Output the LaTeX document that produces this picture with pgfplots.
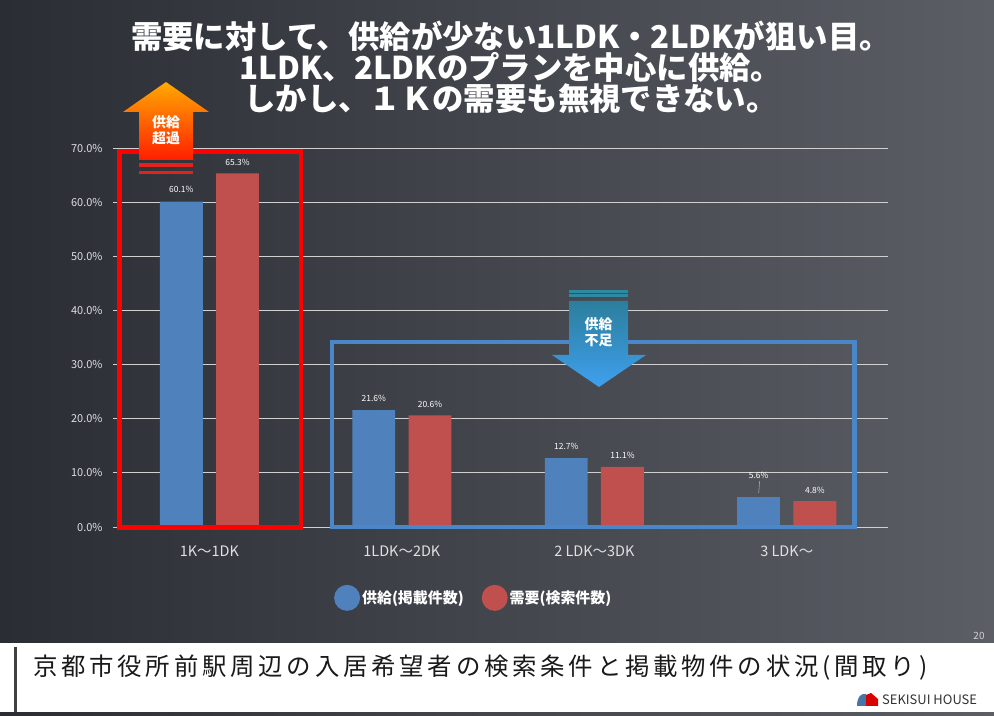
\documentclass[border=0pt]{standalone}
\usepackage{pgfplots}
\pgfplotsset{compat=1.18}
\usepackage{fontspec}
\setmainfont{Noto Sans CJK JP}
\newfontfamily\footfont[LetterSpace=15.5]{Noto Sans CJK JP}
\definecolor{bgL}{HTML}{2B2D35}
\definecolor{bgR}{HTML}{5B5E65}
\definecolor{barblue}{HTML}{4F81BD}
\definecolor{barred}{HTML}{C0504D}
\definecolor{boxblue}{HTML}{4A86C8}
\definecolor{gridc}{HTML}{D0D0D0}
\definecolor{ticktext}{HTML}{E0E0E0}
\definecolor{arrTop}{HTML}{FFAA00}
\definecolor{arrBot}{HTML}{FF1E00}
\definecolor{stripeR}{HTML}{E3221C}
\definecolor{arbTop}{HTML}{2B7E9C}
\definecolor{arbBot}{HTML}{3FA0EE}
\definecolor{stripeB}{HTML}{2E8AA0}

\begin{document}
\begin{tikzpicture}[x=1bp,y=1bp]
% slide background
\shade[left color=bgL, right color=bgR] (0,0) rectangle (994,716);
% footer band
\fill[white] (0,4) rectangle (994,73);
\fill[black!75] (14,4) rectangle (17,69);

\begin{axis}[
  at={(118bp,189bp)}, anchor=south west,
  scale only axis, width=765bp, height=379bp,
  xmin=-0.475, xmax=3.5, ymin=0, ymax=70,
  clip=false,
  axis line style={draw=none},
  xtick={0,1,2,3},
  xticklabels={1K〜1DK, 1LDK〜2DK, 2 LDK〜3DK, 3 LDK〜},
  x tick style={draw=none},
  xticklabel style={text=ticktext, font=\fontsize{14.5}{16}\selectfont, yshift=-10bp},
  ytick={0,10,...,70},
  ymajorgrids, grid style={gridc, line width=0.9bp},
  y tick style={gridc, line width=0.9bp},
  tick align=outside, major tick length=5bp,
  yticklabel={\pgfmathprintnumber[fixed,fixed zerofill,precision=1]{\tick}\%},
  yticklabel style={text=ticktext, font=\fontsize{11}{13}\selectfont, xshift=-7bp},
  /pgf/number format/assume math mode=true,
  legend columns=2,
  legend style={draw=none, fill=none, text=white, font=\bfseries\fontsize{15}{17}\selectfont,
     at={(0.465,-0.187)}, anchor=center,
     /tikz/every even column/.append style={column sep=16bp}},
  every node near coord/.append style={text=white, font=\fontsize{8.5}{9}\selectfont, anchor=center},
]
% supply (listings)
\addplot[ybar, bar shift=0pt, bar width=0.223, fill=barblue, draw=none,
  legend image code/.code={\fill[barblue] (13bp,0bp) circle (13bp);},
  nodes near coords={\pgfmathprintnumber[fixed,fixed zerofill,precision=1]{\pgfplotspointmeta}\%},
  every node near coord/.append style={yshift=12bp}]
  coordinates {(-0.146,60.1) (0.854,21.6) (1.854,12.7)};
\addlegendentry{供給(掲載件数)}
% demand (searches)
\addplot[ybar, bar shift=0pt, bar width=0.223, fill=barred, draw=none,
  legend image code/.code={\fill[barred] (13bp,0bp) circle (13bp);},
  nodes near coords={\pgfmathprintnumber[fixed,fixed zerofill,precision=1]{\pgfplotspointmeta}\%},
  every node near coord/.append style={yshift=11bp}]
  coordinates {(0.146,65.3) (1.146,20.6) (2.146,11.1) (3.146,4.8)};
\addlegendentry{需要(検索件数)}
% supply, 3LDK~ (label lifted with a leader line)
\addplot[ybar, bar shift=0pt, bar width=0.223, fill=barblue, draw=none, forget plot,
  nodes near coords={\pgfmathprintnumber[fixed,fixed zerofill,precision=1]{\pgfplotspointmeta}\%},
  every node near coord/.append style={yshift=21bp}]
  coordinates {(2.854,5.6)};
\draw[gray!70, line width=0.6bp] (axis cs:2.854,6.3) -- (axis cs:2.859,8.5);
\end{axis}

% highlight boxes
\draw[red, line width=4.5bp] (119.5,188.5) rectangle (301,564.5);
\draw[boxblue, line width=4.5bp] (332,189) rectangle (854.5,374);

% oversupply arrow
\shade[top color=arrTop, bottom color=arrBot]
  (166,634) -- (209,604) -- (193,604) -- (193,556) -- (139,556) -- (139,604) -- (123,604) -- cycle;
\fill[stripeR] (139,549) rectangle (193,552.5);
\fill[stripeR] (139,541.5) rectangle (193,544.5);
\node[text=white, font=\bfseries\fontsize{14}{16}\selectfont, align=center] at (166,586) {供給\\超過};

% shortage arrow
\shade[top color=arbTop, bottom color=arbBot]
  (569,415) -- (628,415) -- (628,361) -- (646,361) -- (599,329) -- (552,361) -- (569,361) -- cycle;
\fill[stripeB] (569,423) rectangle (628,426);
\fill[stripeB] (569,418.5) rectangle (628,421.5);
\node[text=white, font=\bfseries\fontsize{14}{16}\selectfont, align=center] at (598.5,383.5) {供給\\不足};

% headline
\node[text=white, align=center, font=\bfseries\fontsize{31.5}{27.5}\selectfont] at (511,648.5)
  {需要に対して、供給が少ない1LDK・2LDKが狙い目。\\1LDK、2LDKのプランを中心に供給。\\しかし、１Ｋの需要も無視できない。};

% footer
\node[anchor=west, text=black!90, font=\footfont\fontsize{24.5}{26}\selectfont, inner sep=0pt] at (33,48)
  {京都市役所前駅周辺の入居希望者の検索条件と掲載物件の状況(間取り)};
\node[text=gray!35, font=\fontsize{10}{11}\selectfont] at (979,80) {20};
\fill[barblue!90!black] (857,10) .. controls (857,20) and (862,23) .. (866,22) -- (866,10) -- cycle;
\fill[red!85!black] (866,10) -- (866,21) -- (871,23) -- (878,17) -- (878,10) -- cycle;
\node[anchor=west, text=black!80, font=\fontsize{13}{14}\selectfont, inner sep=0pt] at (882,16) {SEKISUI HOUSE};
\end{tikzpicture}
\end{document}
